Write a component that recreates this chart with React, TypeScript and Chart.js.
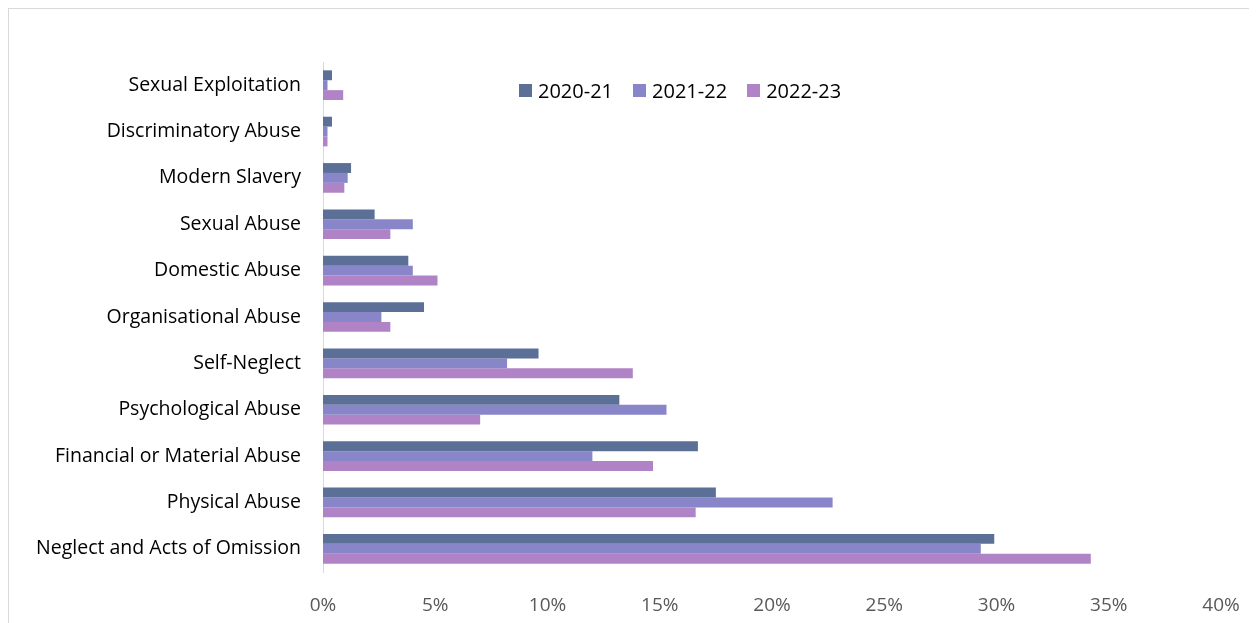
import React, { useEffect, useRef } from 'react';
import { Chart, registerables } from 'chart.js';

Chart.register(...registerables);

const categories = [
  'Sexual Exploitation',
  'Discriminatory Abuse',
  'Modern Slavery',
  'Sexual Abuse',
  'Domestic Abuse',
  'Organisational Abuse',
  'Self-Neglect',
  'Psychological Abuse',
  'Financial or Material Abuse',
  'Physical Abuse',
  'Neglect and Acts of Omission',
];
const y2021 = [0.4, 0.4, 1.25, 2.3, 3.8, 4.5, 9.6, 13.2, 16.7, 17.5, 29.9];
const y2122 = [0.2, 0.2, 1.1, 4.0, 4.0, 2.6, 8.2, 15.3, 12.0, 22.7, 29.3];
const y2223 = [0.9, 0.2, 0.95, 3.0, 5.1, 3.0, 13.8, 7.0, 14.7, 16.6, 34.2];
const seriesNames = ['2020-21', '2021-22', '2022-23'];
const colors = ['#5b6f97', '#8985c9', '#b083c6'];

const FONT = '"Open Sans", sans-serif';

const App: React.FC = () => {
  const canvasRef = useRef<HTMLCanvasElement>(null);

  useEffect(() => {
    if (!canvasRef.current) return;
    const chart = new Chart(canvasRef.current, {
      type: 'bar',
      data: {
        labels: categories,
        datasets: [y2021, y2122, y2223].map((d, i) => ({
          label: seriesNames[i],
          data: d,
          backgroundColor: colors[i],
          categoryPercentage: 0.64,
          barPercentage: 1,
        })),
      },
      options: {
        indexAxis: 'y',
        animation: false,
        responsive: true,
        maintainAspectRatio: false,
        layout: { padding: { top: 53, right: 0, bottom: 27, left: 0 } },
        plugins: { legend: { display: false }, tooltip: { enabled: false } },
        scales: {
          x: {
            min: 0,
            max: 40,
            ticks: {
              stepSize: 5,
              padding: 22,
              color: '#595959',
              font: { family: FONT, size: 19 },
              callback: (v) => v + '%',
            },
            grid: { display: false, drawTicks: false },
            border: { display: false },
            afterFit: (s: any) => { s.height = 50; s.paddingRight = 29; },
          },
          y: {
            ticks: { padding: 22, color: '#000', font: { family: FONT, size: 19.5 } },
            grid: { display: false, drawTicks: false },
            border: { display: true, color: '#d9d9d9' },
            afterFit: (s: any) => { s.width = 314; },
          },
        },
      },
    });
    return () => chart.destroy();
  }, []);

  return (
    <div style={{ position: 'relative', width: 1241, height: 640, border: '1px solid #d9d9d9', fontFamily: FONT }}>
      <canvas ref={canvasRef} />
      <div style={{ position: 'absolute', left: 510, top: 68, display: 'flex', gap: 20, fontSize: 20 }}>
        {seriesNames.map((n, i) => (
          <span key={n} style={{ display: 'flex', alignItems: 'center' }}>
            <span style={{ width: 13, height: 13, background: colors[i], marginRight: 6 }} />
            {n}
          </span>
        ))}
      </div>
    </div>
  );
};

export default App;
